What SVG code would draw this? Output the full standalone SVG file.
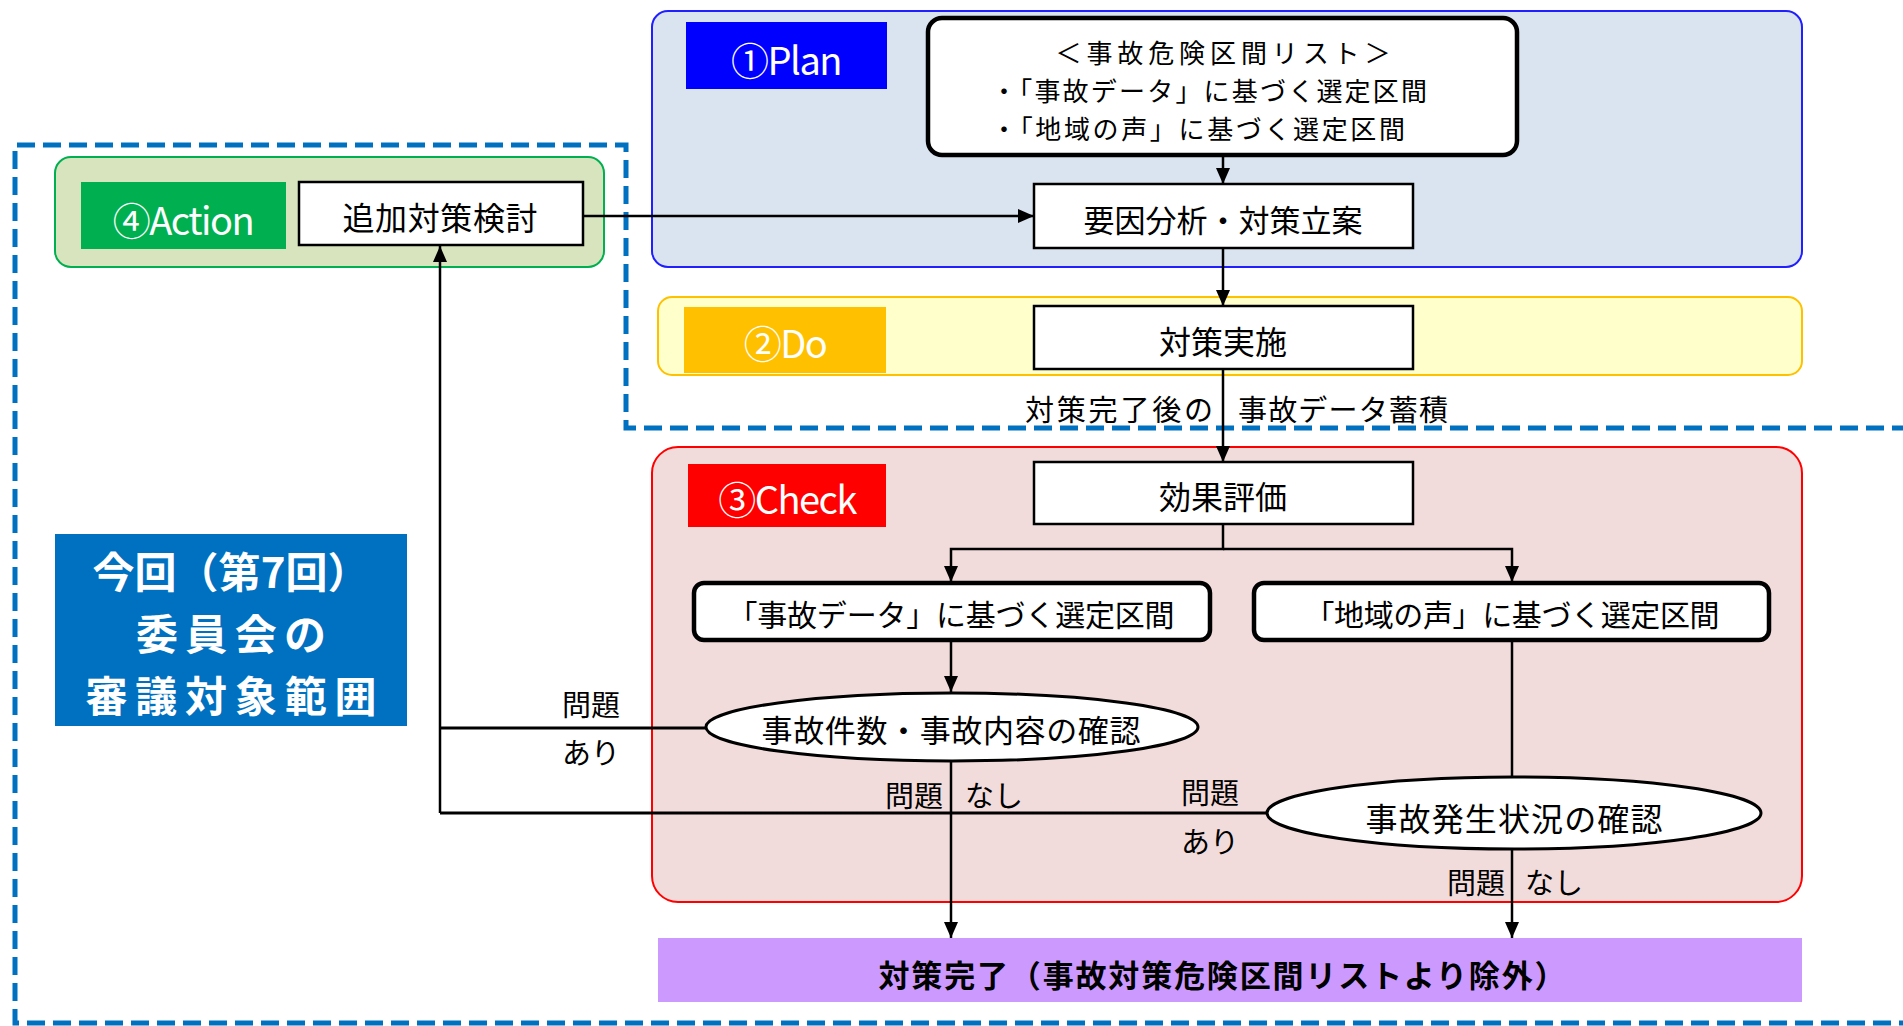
<svg xmlns="http://www.w3.org/2000/svg" width="1903" height="1026" viewBox="0 0 1903 1026">
<defs>
<style>
text{font-family:"Noto Sans CJK JP","Noto Sans",sans-serif;fill:#000;dominant-baseline:central}
.t{font-size:30px;text-anchor:middle}
.s{font-size:29px}
.l{font-size:26px}
.lab{font-size:38px;fill:#fff;text-anchor:middle;letter-spacing:-1.5px}
.big{font-size:42px;font-weight:bold;fill:#fff;text-anchor:middle}
.box{fill:#fff;stroke:#000;stroke-width:2.5}
.rbox{fill:#fff;stroke:#000;stroke-width:4.5}
.ell{fill:#fff;stroke:#000;stroke-width:3}
.c{fill:none;stroke:#000;stroke-width:2.5}
</style>
<marker id="arr" viewBox="0 0 16 14" refX="16" refY="7" markerWidth="16" markerHeight="14" markerUnits="userSpaceOnUse" orient="auto">
<path d="M0,0 L16,7 L0,14 z" fill="#000"/>
</marker>
</defs>
<rect width="1903" height="1026" fill="#fff"/>

<g id="plan-region">
<rect x="652" y="11" width="1150" height="256" rx="16" fill="#DAE3F0" stroke="#1F1FFF" stroke-width="2"/>
<rect x="686" y="22" width="201" height="67" fill="#0000FF"/>
<text class="lab" x="786" y="58">①Plan</text>
</g>
<g id="action-region">
<rect x="55" y="157" width="549" height="110" rx="16" fill="#D8E4BE" stroke="#00B050" stroke-width="2"/>
<rect x="81" y="182" width="205" height="67" fill="#00B050"/>
<text class="lab" x="183" y="218">④Action</text>
</g>
<g id="do-region">
<rect x="658" y="297" width="1144" height="78" rx="14" fill="#FFFFCC" stroke="#FFC000" stroke-width="2"/>
<rect x="684" y="307" width="202" height="66" fill="#FFC000"/>
<text class="lab" x="785" y="341">②Do</text>
</g>
<g id="check-region">
<rect x="652" y="447" width="1150" height="455" rx="26" fill="#F2DCDB" stroke="#FF0000" stroke-width="2"/>
<rect x="688" y="464" width="198" height="63" fill="#FF0000"/>
<text class="lab" x="787" y="497">③Check</text>
</g>

<g id="scope-boundary">
<path d="M1910,428 H626 V145 H15 V1023 H1910" fill="none" stroke="#0070C0" stroke-width="5" stroke-dasharray="18,8"/>
</g>
<g id="scope-label">
<rect x="55" y="534" width="352" height="192" fill="#0070C0"/>
<text class="big" x="231" y="569" textLength="277">今回（第7回）</text>
<text class="big" x="231" y="631" textLength="190">委員会の</text>
<text class="big" x="231" y="693" textLength="291">審議対象範囲</text>
</g>

<g id="connectors">
<line class="c" x1="1223" y1="155" x2="1223" y2="184" marker-end="url(#arr)"/>
<line class="c" x1="583" y1="216" x2="1034" y2="216" marker-end="url(#arr)"/>
<line class="c" x1="1223" y1="248" x2="1223" y2="306" marker-end="url(#arr)"/>
<line class="c" x1="1223" y1="369" x2="1223" y2="462" marker-end="url(#arr)"/>
<polyline class="c" points="1223,524 1223,549 951,549 951,582" marker-end="url(#arr)"/>
<polyline class="c" points="1223,549 1512,549 1512,582" marker-end="url(#arr)"/>
<line class="c" x1="951" y1="640" x2="951" y2="692" marker-end="url(#arr)"/>
<line class="c" x1="1512" y1="640" x2="1512" y2="777"/>
<line class="c" x1="706" y1="728" x2="440" y2="728" style="stroke-width:3"/>
<line class="c" x1="1267" y1="813" x2="440" y2="813" style="stroke-width:3"/>
<line class="c" x1="440" y1="813" x2="440" y2="246" marker-end="url(#arr)"/>
<line class="c" x1="951" y1="761" x2="951" y2="938" marker-end="url(#arr)"/>
<line class="c" x1="1512" y1="850" x2="1512" y2="938" marker-end="url(#arr)"/>
<text class="s" x="1213" y="408" style="text-anchor:end" textLength="188">対策完了後の</text>
<text class="s" x="1238" y="408" textLength="210">事故データ蓄積</text>
<text class="s" x="591" y="703" style="text-anchor:middle">問題</text>
<text class="s" x="591" y="751" style="text-anchor:middle">あり</text>
<text class="s" x="943" y="794" style="text-anchor:end">問題</text>
<text class="s" x="965" y="794">なし</text>
<text class="s" x="1210" y="791" style="text-anchor:middle">問題</text>
<text class="s" x="1210" y="840" style="text-anchor:middle">あり</text>
<text class="s" x="1505" y="881" style="text-anchor:end">問題</text>
<text class="s" x="1525" y="881">なし</text>
</g>

<g id="node-list">
<rect class="rbox" x="928" y="18" width="589" height="137" rx="14"/>
<text class="l" x="1223" y="51" style="text-anchor:middle" textLength="335">＜事故危険区間リスト＞</text>
<text class="l" x="991" y="89" textLength="436">・「事故データ」に基づく選定区間</text>
<text class="l" x="991" y="127" textLength="414">・「地域の声」に基づく選定区間</text>
</g>
<g id="node-analysis">
<rect class="box" x="1034" y="184" width="379" height="64"/>
<text class="t" x="1223" y="218" style="font-size:31px" textLength="279">要因分析・対策立案</text>
</g>
<g id="node-additional">
<rect class="box" x="299" y="182" width="284" height="63"/>
<text class="t" x="440" y="216" style="font-size:32px" textLength="195">追加対策検討</text>
</g>
<g id="node-implement">
<rect class="box" x="1034" y="306" width="379" height="63"/>
<text class="t" x="1223" y="340" style="font-size:32px">対策実施</text>
</g>
<g id="node-evaluate">
<rect class="box" x="1034" y="462" width="379" height="62"/>
<text class="t" x="1223" y="495" style="font-size:32px">効果評価</text>
</g>
<g id="node-data-section">
<rect class="rbox" x="694" y="583" width="516" height="57" rx="10"/>
<text class="t" x="951" y="613" textLength="447">「事故データ」に基づく選定区間</text>
</g>
<g id="node-voice-section">
<rect class="rbox" x="1254" y="583" width="515" height="57" rx="10"/>
<text class="t" x="1512" y="613" textLength="415">「地域の声」に基づく選定区間</text>
</g>
<g id="node-check-count">
<ellipse class="ell" cx="952" cy="727" rx="246" ry="34"/>
<text class="t" x="951" y="728" style="font-size:31px" textLength="379">事故件数・事故内容の確認</text>
</g>
<g id="node-check-occurrence">
<ellipse class="ell" cx="1514" cy="813" rx="247" ry="36"/>
<text class="t" x="1514" y="817" style="font-size:32px" textLength="297">事故発生状況の確認</text>
</g>
<g id="node-complete">
<rect x="658" y="938" width="1144" height="64" fill="#CC99FF"/>
<text class="t" x="1222" y="973" style="font-size:31px;font-weight:bold" textLength="687">対策完了（事故対策危険区間リストより除外）</text>
</g>
</svg>
